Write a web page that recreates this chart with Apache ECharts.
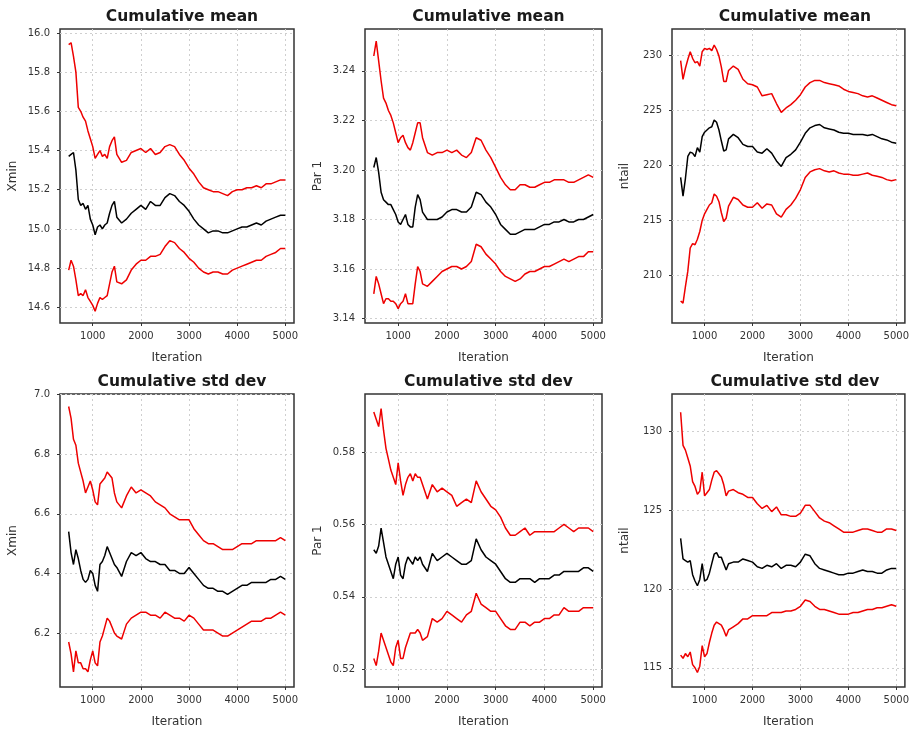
<!DOCTYPE html>
<html>
<head>
    <meta charset="UTF-8">
    <title>Cumulative mean / std dev</title>
    <script src="https://cdn.jsdelivr.net/npm/echarts@6/dist/echarts.min.js"></script>
    <style>
        html, body { margin: 0; padding: 0; background: #fff; }
        #main { width: 912px; height: 729px; }
    </style>
</head>
<body>
    <div id="main"></div>
    <script>
        // iterations at which the traces were read
        var iters = [500, 550, 600, 650, 700, 750, 800, 850, 900, 950, 1000, 1050, 1100, 1150, 1200, 1250, 1300, 1350, 1400, 1450, 1500,
            1600, 1700, 1800, 1900, 2000, 2100, 2200, 2300, 2400, 2500, 2600, 2700, 2800, 2900, 3000, 3100, 3200, 3300, 3400,
            3500, 3600, 3700, 3800, 3900, 4000, 4100, 4200, 4300, 4400, 4500, 4600, 4700, 4800, 4900, 5000];
        var xTicks = [1000, 2000, 3000, 4000, 5000];

        // cumulative mean, Xmin
        var meanXminUp = [15.94, 15.95, 15.88, 15.80, 15.62, 15.60, 15.57, 15.55, 15.50, 15.46, 15.42, 15.36, 15.38, 15.40, 15.37, 15.38, 15.36, 15.42, 15.45, 15.47, 15.38,
            15.34, 15.35, 15.39, 15.40, 15.41, 15.39, 15.41, 15.38, 15.39, 15.42, 15.43, 15.42, 15.38, 15.35, 15.31, 15.28, 15.24, 15.21, 15.20,
            15.19, 15.19, 15.18, 15.17, 15.19, 15.20, 15.20, 15.21, 15.21, 15.22, 15.21, 15.23, 15.23, 15.24, 15.25, 15.25];
        var meanXmin = [15.37, 15.38, 15.39, 15.30, 15.15, 15.12, 15.13, 15.10, 15.12, 15.05, 15.02, 14.97, 15.01, 15.02, 15.00, 15.02, 15.03, 15.08, 15.12, 15.14, 15.06,
            15.03, 15.05, 15.08, 15.10, 15.12, 15.10, 15.14, 15.12, 15.12, 15.16, 15.18, 15.17, 15.14, 15.12, 15.09, 15.05, 15.02, 15.00, 14.98,
            14.99, 14.99, 14.98, 14.98, 14.99, 15.00, 15.01, 15.01, 15.02, 15.03, 15.02, 15.04, 15.05, 15.06, 15.07, 15.07];
        var meanXminLo = [14.79, 14.84, 14.81, 14.74, 14.66, 14.67, 14.66, 14.69, 14.65, 14.63, 14.61, 14.58, 14.62, 14.65, 14.64, 14.65, 14.66, 14.72, 14.78, 14.81, 14.73,
            14.72, 14.74, 14.79, 14.82, 14.84, 14.84, 14.86, 14.86, 14.87, 14.91, 14.94, 14.93, 14.90, 14.88, 14.85, 14.83, 14.80, 14.78, 14.77,
            14.78, 14.78, 14.77, 14.77, 14.79, 14.80, 14.81, 14.82, 14.83, 14.84, 14.84, 14.86, 14.87, 14.88, 14.90, 14.90];

        // cumulative mean, Par 1
        var meanParUp = [3.246, 3.252, 3.244, 3.236, 3.229, 3.227, 3.224, 3.222, 3.219, 3.215, 3.211, 3.213, 3.214, 3.211, 3.209, 3.208, 3.211, 3.215, 3.219, 3.219, 3.213,
            3.207, 3.206, 3.207, 3.207, 3.208, 3.207, 3.208, 3.206, 3.205, 3.207, 3.213, 3.212, 3.208, 3.205, 3.201, 3.197, 3.194, 3.192, 3.192,
            3.194, 3.194, 3.193, 3.193, 3.194, 3.195, 3.195, 3.196, 3.196, 3.196, 3.195, 3.195, 3.196, 3.197, 3.198, 3.197];
        var meanPar = [3.201, 3.205, 3.199, 3.191, 3.188, 3.187, 3.186, 3.186, 3.184, 3.182, 3.179, 3.178, 3.180, 3.182, 3.178, 3.177, 3.177, 3.185, 3.190, 3.188, 3.183,
            3.180, 3.180, 3.180, 3.181, 3.183, 3.184, 3.184, 3.183, 3.183, 3.185, 3.191, 3.190, 3.187, 3.185, 3.182, 3.178, 3.176, 3.174, 3.174,
            3.175, 3.176, 3.176, 3.176, 3.177, 3.178, 3.178, 3.179, 3.179, 3.180, 3.179, 3.179, 3.180, 3.180, 3.181, 3.182];
        var meanParLo = [3.150, 3.157, 3.154, 3.150, 3.146, 3.148, 3.148, 3.147, 3.147, 3.146, 3.144, 3.146, 3.147, 3.150, 3.146, 3.146, 3.146, 3.154, 3.161, 3.159, 3.154,
            3.153, 3.155, 3.157, 3.159, 3.160, 3.161, 3.161, 3.160, 3.161, 3.163, 3.170, 3.169, 3.166, 3.164, 3.162, 3.159, 3.157, 3.156, 3.155,
            3.156, 3.158, 3.159, 3.159, 3.160, 3.161, 3.161, 3.162, 3.163, 3.164, 3.163, 3.164, 3.165, 3.165, 3.167, 3.167];

        // cumulative mean, ntail
        var meanNtailUp = [229.5, 227.8, 228.8, 229.6, 230.3, 229.7, 229.3, 229.4, 229.0, 230.3, 230.6, 230.5, 230.6, 230.4, 230.9, 230.5, 229.9, 228.9, 227.6, 227.6, 228.6,
            229.0, 228.7, 227.8, 227.4, 227.3, 227.1, 226.3, 226.4, 226.5, 225.6, 224.8, 225.2, 225.5, 225.9, 226.4, 227.1, 227.5, 227.7, 227.7,
            227.5, 227.4, 227.3, 227.2, 226.9, 226.7, 226.6, 226.5, 226.3, 226.2, 226.3, 226.1, 225.9, 225.7, 225.5, 225.4];
        var meanNtail = [218.9, 217.2, 218.8, 220.8, 221.2, 221.1, 220.8, 221.6, 221.2, 222.6, 223.0, 223.2, 223.4, 223.5, 224.1, 223.9, 223.2, 222.2, 221.3, 221.4, 222.4,
            222.8, 222.5, 221.9, 221.7, 221.7, 221.2, 221.1, 221.5, 221.1, 220.4, 219.9, 220.7, 221.0, 221.4, 222.1, 222.9, 223.4, 223.6, 223.7,
            223.4, 223.3, 223.2, 223.0, 222.9, 222.9, 222.8, 222.8, 222.8, 222.7, 222.8, 222.6, 222.4, 222.3, 222.1, 222.0];
        var meanNtailLo = [207.7, 207.5, 209.0, 210.4, 212.5, 212.9, 212.8, 213.3, 214.0, 215.0, 215.6, 216.0, 216.4, 216.6, 217.4, 217.2, 216.7, 215.7, 214.9, 215.2, 216.3,
            217.1, 216.9, 216.4, 216.2, 216.2, 216.6, 216.1, 216.5, 216.4, 215.6, 215.3, 216.0, 216.4, 217.0, 217.8, 218.9, 219.4, 219.6, 219.7,
            219.5, 219.4, 219.5, 219.3, 219.2, 219.2, 219.1, 219.1, 219.2, 219.3, 219.1, 219.0, 218.9, 218.7, 218.6, 218.7];

        // cumulative std dev, Xmin
        var sdXminUp = [6.96, 6.92, 6.85, 6.83, 6.77, 6.74, 6.71, 6.67, 6.69, 6.71, 6.68, 6.64, 6.63, 6.70, 6.71, 6.72, 6.74, 6.73, 6.72, 6.67, 6.64,
            6.62, 6.66, 6.69, 6.67, 6.68, 6.67, 6.66, 6.64, 6.63, 6.62, 6.60, 6.59, 6.58, 6.58, 6.58, 6.55, 6.53, 6.51, 6.50,
            6.50, 6.49, 6.48, 6.48, 6.48, 6.49, 6.50, 6.50, 6.50, 6.51, 6.51, 6.51, 6.51, 6.51, 6.52, 6.51];
        var sdXmin = [6.54, 6.47, 6.43, 6.48, 6.45, 6.41, 6.38, 6.37, 6.38, 6.41, 6.40, 6.36, 6.34, 6.43, 6.44, 6.46, 6.49, 6.47, 6.45, 6.43, 6.42,
            6.39, 6.44, 6.47, 6.46, 6.47, 6.45, 6.44, 6.44, 6.43, 6.43, 6.41, 6.41, 6.40, 6.40, 6.42, 6.40, 6.38, 6.36, 6.35,
            6.35, 6.34, 6.34, 6.33, 6.34, 6.35, 6.36, 6.36, 6.37, 6.37, 6.37, 6.37, 6.38, 6.38, 6.39, 6.38];
        var sdXminLo = [6.17, 6.13, 6.07, 6.14, 6.10, 6.10, 6.08, 6.08, 6.07, 6.11, 6.14, 6.10, 6.09, 6.17, 6.19, 6.22, 6.25, 6.24, 6.22, 6.20, 6.19,
            6.18, 6.23, 6.25, 6.26, 6.27, 6.27, 6.26, 6.26, 6.25, 6.27, 6.26, 6.25, 6.25, 6.24, 6.26, 6.25, 6.23, 6.21, 6.21,
            6.21, 6.20, 6.19, 6.19, 6.20, 6.21, 6.22, 6.23, 6.24, 6.24, 6.24, 6.25, 6.25, 6.26, 6.27, 6.26];

        // cumulative std dev, Par 1
        var sdParUp = [0.591, 0.589, 0.587, 0.592, 0.586, 0.581, 0.578, 0.575, 0.573, 0.571, 0.577, 0.572, 0.568, 0.571, 0.573, 0.574, 0.572, 0.574, 0.573, 0.573, 0.571,
            0.567, 0.571, 0.569, 0.570, 0.569, 0.568, 0.565, 0.566, 0.567, 0.566, 0.572, 0.569, 0.567, 0.565, 0.564, 0.562, 0.559, 0.557, 0.557,
            0.558, 0.559, 0.557, 0.558, 0.558, 0.558, 0.558, 0.558, 0.559, 0.560, 0.559, 0.558, 0.559, 0.559, 0.559, 0.558];
        var sdPar = [0.553, 0.552, 0.554, 0.559, 0.555, 0.551, 0.549, 0.547, 0.545, 0.549, 0.551, 0.546, 0.545, 0.549, 0.551, 0.550, 0.549, 0.551, 0.550, 0.551, 0.549,
            0.547, 0.552, 0.550, 0.551, 0.552, 0.551, 0.550, 0.549, 0.549, 0.550, 0.556, 0.553, 0.551, 0.550, 0.549, 0.547, 0.545, 0.544, 0.544,
            0.545, 0.545, 0.545, 0.544, 0.545, 0.545, 0.545, 0.546, 0.546, 0.547, 0.547, 0.547, 0.547, 0.548, 0.548, 0.547];
        var sdParLo = [0.523, 0.521, 0.525, 0.530, 0.528, 0.526, 0.524, 0.522, 0.521, 0.526, 0.528, 0.523, 0.523, 0.526, 0.528, 0.530, 0.530, 0.530, 0.531, 0.530, 0.528,
            0.529, 0.534, 0.533, 0.534, 0.536, 0.535, 0.534, 0.533, 0.535, 0.536, 0.541, 0.538, 0.537, 0.536, 0.536, 0.534, 0.532, 0.531, 0.531,
            0.533, 0.533, 0.532, 0.533, 0.533, 0.534, 0.534, 0.535, 0.535, 0.537, 0.536, 0.536, 0.536, 0.537, 0.537, 0.537];

        // cumulative std dev, ntail
        var sdNtailUp = [131.2, 129.1, 128.8, 128.3, 127.8, 126.8, 126.5, 126.0, 126.2, 127.4, 125.9, 126.1, 126.3, 126.9, 127.4, 127.5, 127.3, 127.1, 126.6, 125.9, 126.2,
            126.3, 126.1, 126.0, 125.8, 125.8, 125.4, 125.1, 125.3, 124.9, 125.2, 124.7, 124.7, 124.6, 124.6, 124.8, 125.3, 125.3, 124.9, 124.5,
            124.3, 124.2, 124.0, 123.8, 123.6, 123.6, 123.6, 123.7, 123.8, 123.8, 123.7, 123.6, 123.6, 123.8, 123.8, 123.7];
        var sdNtail = [123.2, 121.9, 121.8, 121.7, 121.8, 120.9, 120.5, 120.2, 120.6, 121.6, 120.5, 120.6, 121.0, 121.6, 122.2, 122.3, 122.0, 122.0, 121.6, 121.2, 121.6,
            121.7, 121.7, 121.9, 121.8, 121.7, 121.4, 121.3, 121.5, 121.4, 121.6, 121.3, 121.5, 121.5, 121.4, 121.7, 122.2, 122.1, 121.6, 121.3,
            121.2, 121.1, 121.0, 120.9, 120.9, 121.0, 121.0, 121.1, 121.2, 121.1, 121.1, 121.0, 121.0, 121.2, 121.3, 121.3];
        var sdNtailLo = [115.8, 115.6, 115.9, 115.7, 116.0, 115.2, 115.0, 114.7, 115.1, 116.4, 115.7, 115.9, 116.6, 117.2, 117.7, 117.9, 117.8, 117.7, 117.4, 117.0, 117.4,
            117.6, 117.8, 118.1, 118.1, 118.3, 118.3, 118.3, 118.3, 118.5, 118.5, 118.5, 118.6, 118.6, 118.7, 118.9, 119.3, 119.2, 118.9, 118.7,
            118.7, 118.6, 118.5, 118.4, 118.4, 118.4, 118.5, 118.5, 118.6, 118.7, 118.7, 118.8, 118.8, 118.9, 119.0, 118.9];

        var panels = [
            {title: 'Cumulative mean', yName: 'Xmin', lines: [meanXminUp, meanXmin, meanXminLo], yMin: 14.52, yMax: 16.02, yTicks: [14.6, 14.8, 15.0, 15.2, 15.4, 15.6, 15.8, 16.0], dec: 1},
            {title: 'Cumulative mean', yName: 'Par 1', lines: [meanParUp, meanPar, meanParLo], yMin: 3.1382, yMax: 3.2569, yTicks: [3.14, 3.16, 3.18, 3.20, 3.22, 3.24], dec: 2},
            {title: 'Cumulative mean', yName: 'ntail', lines: [meanNtailUp, meanNtail, meanNtailLo], yMin: 205.7, yMax: 232.36, yTicks: [210, 215, 220, 225, 230], dec: 0},
            {title: 'Cumulative std dev', yName: 'Xmin', lines: [sdXminUp, sdXmin, sdXminLo], yMin: 6.019, yMax: 7.002, yTicks: [6.2, 6.4, 6.6, 6.8, 7.0], dec: 1},
            {title: 'Cumulative std dev', yName: 'Par 1', lines: [sdParUp, sdPar, sdParLo], yMin: 0.5151, yMax: 0.596, yTicks: [0.52, 0.54, 0.56, 0.58], dec: 2},
            {title: 'Cumulative std dev', yName: 'ntail', lines: [sdNtailUp, sdNtail, sdNtailLo], yMin: 113.78, yMax: 132.36, yTicks: [115, 120, 125, 130], dec: 0}
        ];

        // plot boxes in pixels
        var boxes = [
            {left: 60, top: 29, width: 234, height: 294},
            {left: 365, top: 29, width: 237, height: 294},
            {left: 672, top: 29, width: 236, height: 294},
            {left: 60, top: 394, width: 234, height: 294},
            {left: 365, top: 394, width: 237, height: 294},
            {left: 672, top: 394, width: 236, height: 294}
        ];
        var lineColors = ['#ee0000', '#000000', '#ee0000'];
        var font = 'DejaVu Sans';

        var titles = [], grids = [], xAxes = [], yAxes = [], series = [];
        panels.forEach(function (p, k) {
            var b = boxes[k];
            titles.push({
                text: p.title, left: b.left + b.width / 2, top: b.top - 25, textAlign: 'center',
                textStyle: {fontFamily: font, fontSize: 15.5, fontWeight: 'bold', color: '#1a1a1a'}
            });
            grids.push({
                left: b.left, top: b.top, width: b.width, height: b.height,
                show: true, borderColor: '#333', borderWidth: 1.5, backgroundColor: 'transparent'
            });
            xAxes.push({
                gridIndex: k, type: 'value', min: 320, max: 5180,
                name: 'Iteration', nameLocation: 'middle', nameGap: 29,
                nameTextStyle: {fontFamily: font, fontSize: 12, color: '#333'},
                axisLine: {show: false},
                axisTick: {show: true, inside: false, length: 3, customValues: xTicks, lineStyle: {color: '#333'}},
                axisLabel: {
                    customValues: xTicks, margin: 8, fontFamily: font, fontSize: 10, color: '#333',
                    formatter: function (v) { return String(v); }
                },
                splitLine: {show: true, lineStyle: {color: '#cfcfcf', type: [2, 3], width: 1}}
            });
            yAxes.push({
                gridIndex: k, type: 'value', min: p.yMin, max: p.yMax,
                name: p.yName, nameLocation: 'middle', nameGap: 41, nameRotate: 90,
                nameTextStyle: {fontFamily: font, fontSize: 12, color: '#333'},
                axisLine: {show: false},
                axisTick: {show: true, inside: false, length: 3, customValues: p.yTicks, lineStyle: {color: '#333'}},
                axisLabel: {
                    customValues: p.yTicks, margin: 10, fontFamily: font, fontSize: 10, color: '#333',
                    formatter: (function (d) { return function (v) { return v.toFixed(d); }; })(p.dec)
                },
                splitLine: {show: true, lineStyle: {color: '#cfcfcf', type: [2, 3], width: 1}}
            });
            p.lines.forEach(function (arr, j) {
                series.push({
                    type: 'line', xAxisIndex: k, yAxisIndex: k,
                    data: iters.map(function (x, i) { return [x, arr[i]]; }),
                    showSymbol: false, symbol: 'none',
                    lineStyle: {color: lineColors[j], width: 1.5},
                    z: j === 1 ? 3 : 2
                });
            });
        });

        var chart = echarts.init(document.getElementById('main'), null, {renderer: 'canvas'});
        chart.setOption({
            backgroundColor: '#fff',
            animation: false,
            title: titles,
            grid: grids,
            xAxis: xAxes,
            yAxis: yAxes,
            series: series
        });
    </script>
</body>
</html>
